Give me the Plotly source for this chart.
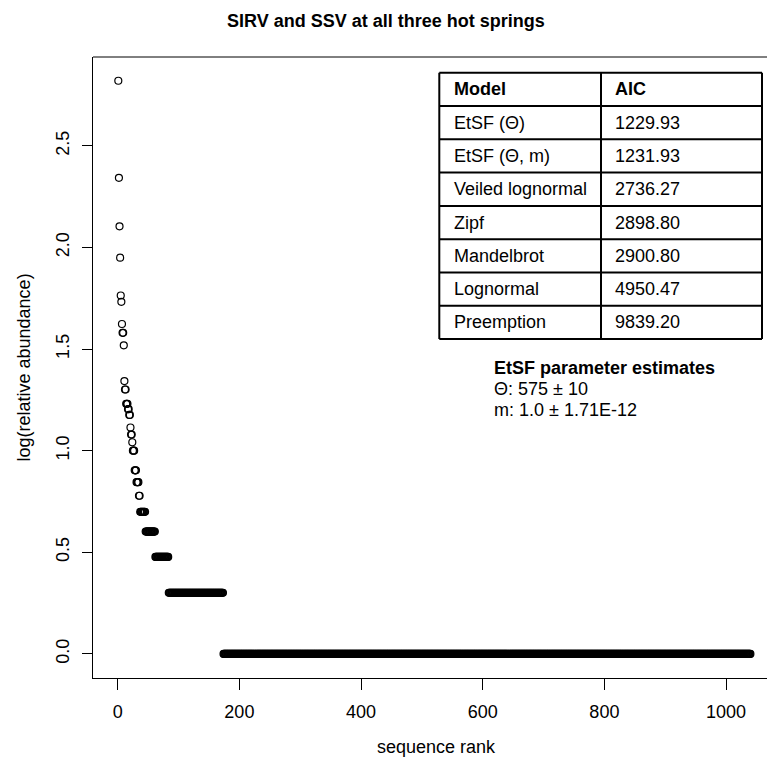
import numpy as np
import plotly.graph_objects as go

# ---- data ----
head_abundance = [661, 220, 127, 89, 58, 54, 42, 38, 38, 33, 22, 20, 20, 17, 17, 17,
                  16, 16, 15, 15, 13, 12, 12, 11, 10, 10, 10, 8, 8, 8, 7, 7, 7, 7, 6, 6]
tail_levels = [5, 4, 3, 2, 1]
tail_runs = [9, 16, 22, 90, 867]

x_ticks = [0, 200, 400, 600, 800, 1000]
y_ticks = [0.0, 0.5, 1.0, 1.5, 2.0, 2.5]
y_ticktext = ["0.0", "0.5", "1.0", "1.5", "2.0", "2.5"]

models = ["Model", "EtSF (\u0398)", "EtSF (\u0398, m)", "Veiled lognormal", "Zipf",
          "Mandelbrot", "Lognormal", "Preemption"]
aic = ["AIC", "1229.93", "1231.93", "2736.27", "2898.80", "2900.80", "4950.47", "9839.20"]
param_title = "EtSF parameter estimates"
param_lines = ["\u0398: 575 \u00b1 10", "m: 1.0 \u00b1 1.71E-12"]

abundance = list(head_abundance)
for lvl, n in zip(tail_levels, tail_runs):
    abundance += [lvl] * n
rank = np.arange(1, len(abundance) + 1)
logab = np.log10(np.array(abundance, dtype=float))

FONT = "Liberation Sans, Arial, sans-serif"
W, H = 767, 771
L, T, B = 93, 57, 93
PW = W - L
PH = H - T - B

def px_x(p):
    return (p - L) / PW

def px_y(p):
    return (H - B - p) / PH

fig = go.Figure(go.Scatter(
    x=rank, y=logab, mode="markers",
    marker=dict(symbol="circle-open", size=7, color="black", line=dict(width=1.2, color="black")),
    showlegend=False, hoverinfo="skip"))

shapes = []
annotations = []

# top border of plot box (right side is cropped in the reference)
shapes.append(dict(type="line", xref="paper", yref="paper", x0=0, x1=1, y0=1, y1=1,
                   line=dict(color="black", width=1)))

# table
tl, tm, tr = 439.3, 601.0, 762.0
ttop, rowh = 72.7, 33.3
nrows = len(models)
tbot = ttop + nrows * rowh
for i in range(nrows + 1):
    yy = px_y(ttop + i * rowh)
    shapes.append(dict(type="line", xref="paper", yref="paper", x0=px_x(tl), x1=px_x(tr),
                       y0=yy, y1=yy, line=dict(color="black", width=2)))
for xx in (tl, tm, tr):
    shapes.append(dict(type="line", xref="paper", yref="paper", x0=px_x(xx), x1=px_x(xx),
                       y0=px_y(ttop), y1=px_y(tbot), line=dict(color="black", width=2)))
for i, (m, a) in enumerate(zip(models, aic)):
    yc = px_y(ttop + (i + 0.5) * rowh)
    bold = i == 0
    for txt, xl in ((m, 451.7), (a, 612.7)):
        annotations.append(dict(xref="paper", yref="paper", x=px_x(xl), y=yc,
                                text=f"<b>{txt}</b>" if bold else txt, showarrow=False,
                                xanchor="left", yanchor="middle",
                                font=dict(family=FONT, size=18, color="black")))

annotations.append(dict(xref="paper", yref="paper", x=px_x(491.7), y=px_y(368),
                        text=f"<b>{param_title}</b>", showarrow=False, xanchor="left",
                        yanchor="middle", font=dict(family=FONT, size=18, color="black")))
for j, line in enumerate(param_lines):
    annotations.append(dict(xref="paper", yref="paper", x=px_x(491.7), y=px_y(389 + 20.5 * j),
                            text=line, showarrow=False, xanchor="left", yanchor="middle",
                            font=dict(family=FONT, size=18, color="black")))

# titles
annotations.append(dict(xref="paper", yref="paper", x=px_x(386), y=px_y(21),
                        text="<b>SIRV and SSV at all three hot springs</b>", showarrow=False,
                        xanchor="center", yanchor="middle",
                        font=dict(family=FONT, size=18, color="black")))
annotations.append(dict(xref="paper", yref="paper", x=px_x(436), y=px_y(747),
                        text="sequence rank", showarrow=False, xanchor="center", yanchor="middle",
                        font=dict(family=FONT, size=18, color="black")))
annotations.append(dict(xref="paper", yref="paper", x=px_x(23), y=px_y(367.5),
                        text="log(relative abundance)", showarrow=False, textangle=-90,
                        xanchor="center", yanchor="middle",
                        font=dict(family=FONT, size=18, color="black")))

fig.update_layout(
    width=W, height=H,
    margin=dict(l=L, r=0, t=T, b=B),
    paper_bgcolor="white", plot_bgcolor="white",
    shapes=shapes, annotations=annotations,
    xaxis=dict(range=[-40.6, 1067.3], tickvals=x_ticks, ticks="outside", ticklen=11,
               tickwidth=1, tickcolor="black", showline=True, linecolor="black", linewidth=1,
               showgrid=False, zeroline=False, ticklabelstandoff=6,
               tickfont=dict(family=FONT, size=18, color="black")),
    yaxis=dict(range=[-0.1185, 2.937], tickvals=y_ticks, ticktext=y_ticktext, tickangle=-90,
               ticks="outside", ticklen=10, tickwidth=1, tickcolor="black", showline=True,
               linecolor="black", linewidth=1, showgrid=False, zeroline=False,
               ticklabelstandoff=6,
               tickfont=dict(family=FONT, size=18, color="black")),
)

fig.write_html("out.html")
